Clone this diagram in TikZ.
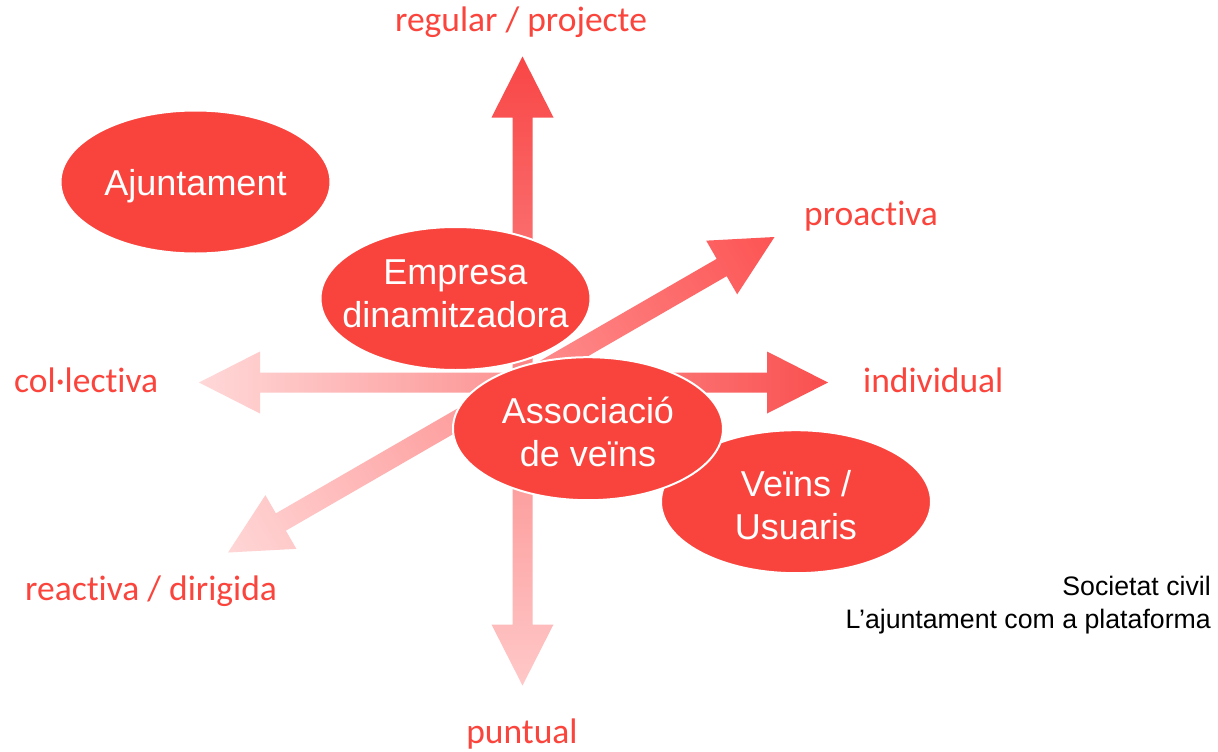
\documentclass[tikz,border=0pt]{standalone}
\usepackage{fontspec}
\setmainfont{Liberation Sans}
\newfontfamily\calib[Ligatures=NoCommon]{Carlito}
\usetikzlibrary{shapes.geometric}
\definecolor{blobred}{RGB}{249,68,62}
\definecolor{labred}{RGB}{250,68,60}
\definecolor{vlo}{RGB}{255,200,200}
\definecolor{vhi}{RGB}{249,70,70}
\definecolor{hlo}{RGB}{255,216,216}
\definecolor{hhi}{RGB}{250,80,80}
\definecolor{dlo}{RGB}{255,214,214}
\definecolor{dhi}{RGB}{253,84,84}
\newcommand\dirarrow[6]{%
  \begin{scope}[transform canvas={shift={(#1,#2)},rotate=#3}]
    \shade[#6] (-#4,0) -- (-#4+61,31) -- (-#4+61,10) -- (#5-61,10) -- (#5-61,31) -- (#5,0)
      -- (#5-61,-31) -- (#5-61,-10) -- (-#4+61,-10) -- (-#4+61,-31) -- cycle;
  \end{scope}}
\tikzset{
  blob/.style={ellipse, fill=blobred, draw=white, line width=2pt, minimum width=270pt, minimum height=143pt, inner sep=0pt},
  blobtext/.style={text=white, align=center, font=\fontsize{36}{43}\selectfont, inner sep=0pt},
  axislabel/.style={text=labred, font=\calib\fontsize{35.5}{40}\selectfont, inner sep=0pt},
  notetext/.style={text=black, font=\fontsize{26.7}{32}\selectfont, inner sep=0pt, anchor=base east}
}
\begin{document}
\begin{tikzpicture}[x=1pt,y=-1pt]
\useasboundingbox (0,0) rectangle (1218,752);
\fill[white] (0,0) rectangle (1218,752);
% arrows
\dirarrow{522.5}{382.5}{90}{303}{326}{left color=vlo, right color=vhi}
\dirarrow{522.5}{382.5}{0}{323.5}{305.5}{left color=hlo, right color=hhi}
\dirarrow{522.5}{382.5}{30}{340}{291}{left color=dlo, right color=dhi}
% ellipses
\node[blob] (aj) at (195.5,182) {};
\node[blobtext, yshift=-4pt] (ajT) at (aj.center) {Ajuntament};
\node[blob] (emp) at (455.5,298.5) {};
\node[blobtext, yshift=5pt] (empT) at (emp.center) {Empresa\\dinamitzadora};
\node[blob] (veu) at (796,501.7) {};
\node[blobtext, yshift=-3pt] (veuT) at (veu.center) {Veïns /\\Usuaris};
\node[blob] (ass) at (588,428.7) {};
\node[blobtext, yshift=-3pt] (assT) at (ass.center) {Associació\\de veïns};
% axis labels
\node[axislabel, anchor=base] (lreg) at (521,32) {regular / projecte};
\node[axislabel, anchor=base west] (lpro) at (804,225) {proact\kern0pt iva};
\node[axislabel, anchor=base west] (lcol) at (14,392.7) {col·lect\kern0pt iva};
\node[axislabel, anchor=base west] (lind) at (863,392.7) {individual};
\node[axislabel, anchor=base west] (lrea) at (25,600) {react\kern0pt iva / dirigida};
\node[axislabel, anchor=base] (lpun) at (522,743) {puntual};
% notes
\node[notetext] (n1) at (1211,595) {Societat civil};
\node[notetext] (n2) at (1211,628) {L’ajuntament com a plataforma};
\end{tikzpicture}
\end{document}
